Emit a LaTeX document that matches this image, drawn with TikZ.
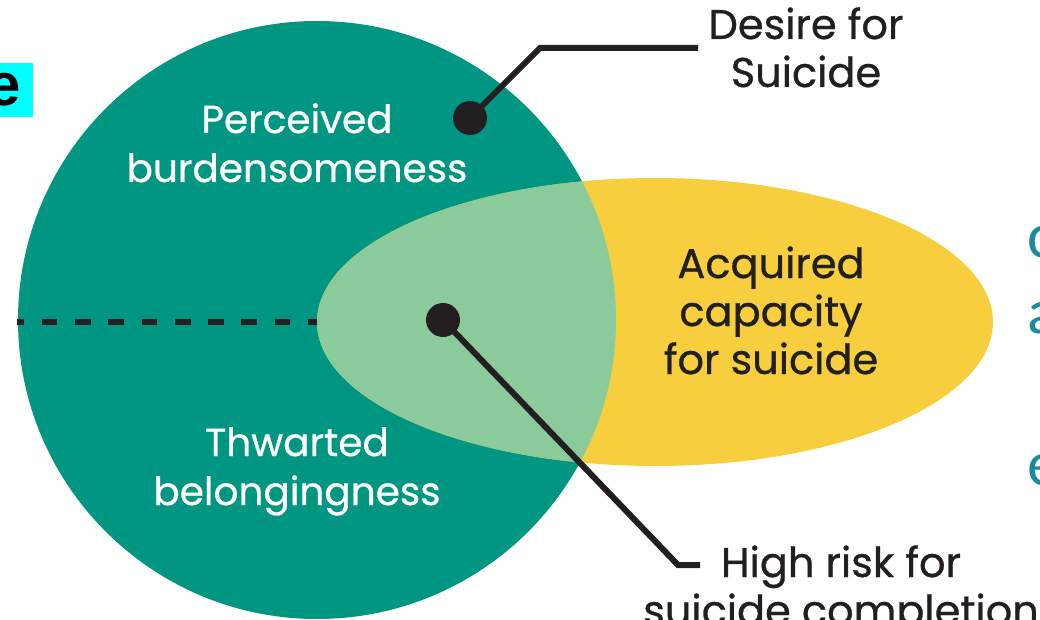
\documentclass[tikz,border=0pt]{standalone}
\usepackage{fontspec}
\usepackage{tikz}
\setmainfont{Poppins}[FakeBold=0.7]
\newfontfamily\slidefont{Carlito}
\newfontfamily\arialfont{Liberation Sans}
\definecolor{ipteal}{HTML}{009681}
\definecolor{ipyellow}{HTML}{F6CE3E}
\definecolor{ipgreen}{HTML}{8BCB9B}
\definecolor{inkdark}{HTML}{231F20}
\definecolor{slideteal}{HTML}{1A8B9D}
\definecolor{markcyan}{HTML}{00FFFF}

\begin{document}
\begin{tikzpicture}[x=1pt, y=-1pt,
        leader/.style={line width=6pt, draw=inkdark},
        knot/.style={shape=circle, fill=inkdark, minimum size=34pt, inner sep=0pt},
        whitelabel/.style={text=white, align=center, anchor=base, font=\fontsize{39}{49}\selectfont},
        darklabel/.style={text=inkdark, align=center, anchor=base, font=\fontsize{41.5}{48}\selectfont},
        cutword/.style={text=slideteal, anchor=base west, inner sep=0pt, font=\slidefont\fontsize{64}{76}\selectfont}]
        \useasboundingbox (0,0) rectangle (1040,620);
        \fill[ipteal] (317,320) circle (299pt);
        \fill[ipyellow] (655,322) ellipse [x radius=338pt, y radius=144pt];
        \begin{scope}
            \clip (317,320) circle (299pt);
            \fill[ipgreen] (655,322) ellipse [x radius=338pt, y radius=144pt];
        \end{scope}
        \coordinate (circwest) at (17,322);
        \coordinate (ellwest) at (317,322);
        \draw[line width=6pt, inkdark, dash pattern=on 15.7pt off 17.6pt, dash phase=8.7pt] (circwest) -- (ellwest);
        \coordinate (desirept) at (470,118);
        \coordinate (desirebend) at (540,48);
        \coordinate (desireend) at (698,48);
        \coordinate (riskpt) at (443,320);
        \coordinate (riskbend) at (678,565);
        \coordinate (riskend) at (700,565);
        \draw[leader] (desirept) -- (desirebend) -- (desireend);
        \draw[leader] (riskpt) -- (riskbend) -- (riskend);
        \node[knot] (desiredot) at (desirept) {};
        \node[knot] (riskdot) at (riskpt) {};
        % anchor=base sits on the last line
        \node[whitelabel] (burden) at (297,182) {Perceived\\burdensomeness};
        \node[whitelabel] (belong) at (297,505) {Thwarted\\belongingness};
        \node[darklabel] (capacity) at (771,374) {Acquired\\capacity\\for suicide};
        \node[darklabel] (desire) at (806,87) {Desire for\\Suicide};
        \node[darklabel] (risk) at (841,625) {High risk for\\suicide completion};
        \fill[markcyan] (0,63) rectangle (33,117);
        \node[anchor=base east, inner sep=0pt, font=\arialfont\bfseries\fontsize{60}{60}\selectfont] (boxe) at (21,106) {e};
        \node[cutword] (cutc) at (1027,257) {c};
        \node[cutword] (cuta) at (1027,333) {a};
        \node[cutword] (cute) at (1027,485) {e};
    \end{tikzpicture}
\end{document}
